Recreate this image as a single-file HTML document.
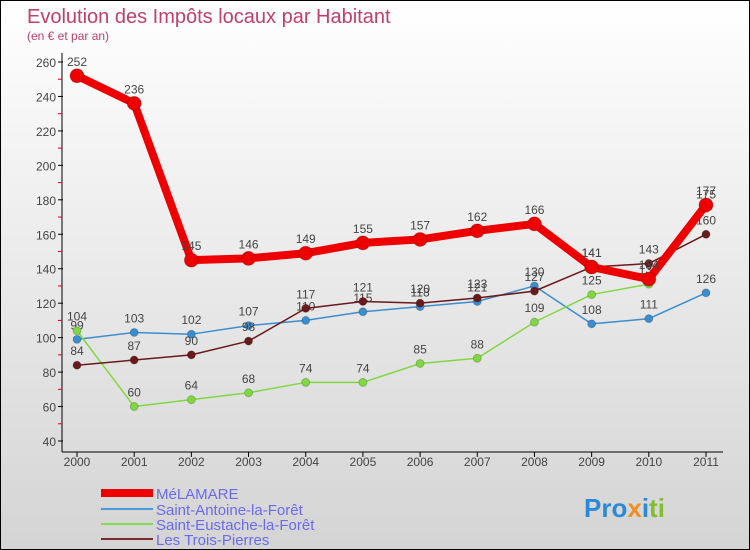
<!DOCTYPE html>
<html><head><meta charset="utf-8"><style>
body{margin:0}
#c{width:750px;height:550px;position:relative;box-sizing:border-box;border:1px solid #000;background:linear-gradient(#fff,#d4d4d4);font-family:"Liberation Sans",sans-serif;overflow:hidden}
</style></head><body>
<div id="c">
<svg width="750" height="550" id="s">
<text x="26" y="22" font-size="20" fill="#c0406a">Evolution des Impôts locaux par Habitant</text>
<text x="26" y="39" font-size="12" fill="#c0406a">(en € et par an)</text>
<g id="ax"></g><g id="ser"></g>
<g>
<rect x="100" y="488" width="52" height="8" fill="#e00"/>
<text x="155" y="498" font-size="15" fill="#6a6af0">MéLAMARE</text>
<line x1="100" y1="508" x2="152" y2="508" stroke="#4a9ad8" stroke-width="2"/>
<text x="155" y="514" font-size="15" fill="#6a6af0">Saint-Antoine-la-Forêt</text>
<line x1="100" y1="523" x2="152" y2="523" stroke="#80dd50" stroke-width="2"/>
<text x="155" y="529" font-size="15" fill="#6a6af0">Saint-Eustache-la-Forêt</text>
<line x1="100" y1="538" x2="152" y2="538" stroke="#7a2a2a" stroke-width="2"/>
<text x="155" y="544" font-size="15" fill="#6a6af0">Les Trois-Pierres</text>
</g>
<g font-size="26" font-weight="bold">
<text x="583" y="516"><tspan fill="#2a8ad8">Pro</tspan><tspan fill="#f09020">x</tspan><tspan fill="#2a8ad8">i</tspan><tspan fill="#80c030">ti</tspan></text>
</g>
</svg>
</div>
<script>
const years=[2000,2001,2002,2003,2004,2005,2006,2007,2008,2009,2010,2011];
const yTicks=[40,60,80,100,120,140,160,180,200,220,240,260];
const melamare=[252,236,145,146,149,155,157,162,166,141,134,177];
const saintAntoine=[99,103,102,107,110,115,118,121,130,108,111,126];
const saintEustache=[104,60,64,68,74,74,85,88,109,125,131,175];
const troisPierres=[84,87,90,98,117,121,120,123,127,141,143,160];
const NS="http://www.w3.org/2000/svg";
const X=i=>76+i*(705-76)/(years.length-1);
const Y=v=>440-(v-40)*(440-61)/220;
function mk(t,a,p){const e=document.createElementNS(NS,t);for(const k in a)e.setAttribute(k,a[k]);p.appendChild(e);return e;}
const ax=document.getElementById('ax');
let l=mk('line',{x1:61,y1:52,x2:61,y2:451,stroke:'#000'},ax);


l=mk('line',{x1:61,y1:451,x2:722,y2:451,stroke:'#000'},ax);


yTicks.forEach((v,i)=>{
 mk('line',{x1:57,y1:Y(v),x2:62,y2:Y(v),stroke:'#000'},ax);
 if(i<yTicks.length-1)mk('line',{x1:57,y1:Y(v+10),x2:61,y2:Y(v+10),stroke:'#e00'},ax);
 const t=mk('text',{x:55,y:Y(v)+5,'font-size':12,fill:'#444','text-anchor':'end'},ax);t.textContent=v;
 
 
});
years.forEach((yr,i)=>{
 mk('line',{x1:X(i),y1:451,x2:X(i),y2:456,stroke:'#000'},ax);
 const t=mk('text',{x:X(i),y:465,'font-size':12,fill:'#444','text-anchor':'middle'},ax);t.textContent=yr;
 
 
});
const ser=document.getElementById('ser');
function draw(data,color,w,r,name){
 const g=mk('g',{},ser);
 
 
 mk('polyline',{points:data.map((v,i)=>X(i)+','+Y(v)).join(' '),fill:'none',stroke:color,'stroke-width':w,'stroke-linejoin':'round'},g);
 data.forEach((v,i)=>{
  const c=mk('circle',{cx:X(i),cy:Y(v),r:r,fill:color,stroke:'rgba(0,0,0,0.2)'},g);
  
  
  const t=mk('text',{x:X(i),y:Y(v)-10,'font-size':12,fill:'#444','text-anchor':'middle'},g);t.textContent=v;
 });
}
draw(saintAntoine,'#3a8ed0',1.5,4,'saint-antoine');
draw(saintEustache,'#80d840',1.5,4,'saint-eustache');
draw(troisPierres,'#6a1a1a',1.5,4,'trois-pierres');
draw(melamare,'#ee0000',8,7,'melamare');
</script>
</body></html>
